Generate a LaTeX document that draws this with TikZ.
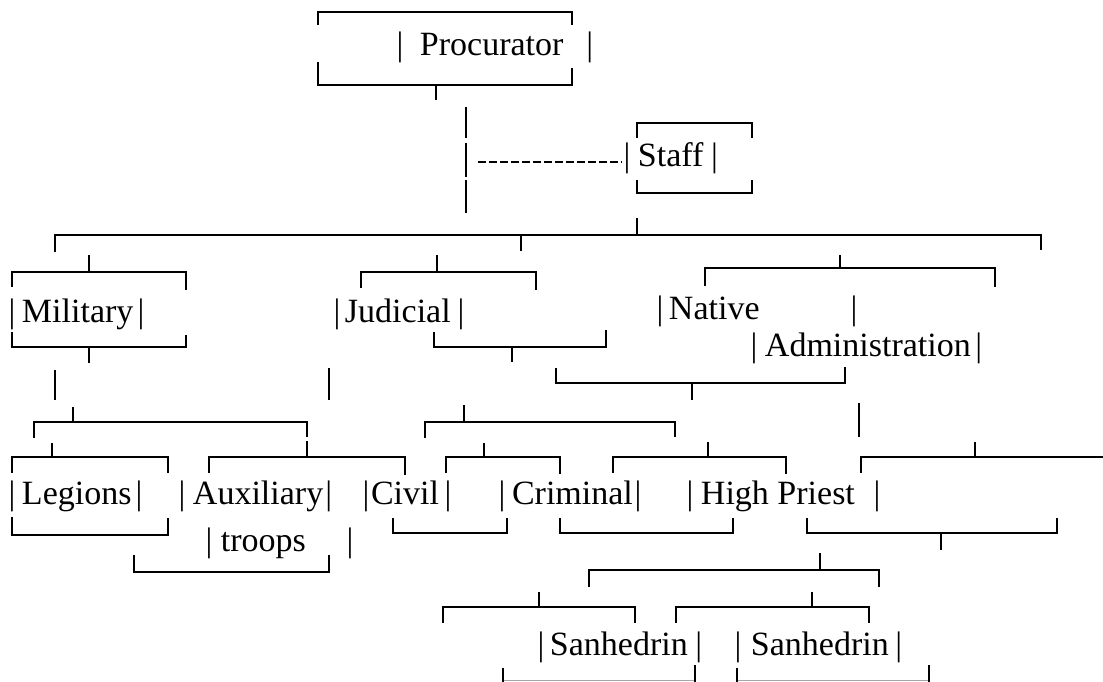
\documentclass[tikz,border=0pt]{standalone}
\usepackage{fontspec}
\setmainfont{Liberation Serif}
\begin{document}
\begin{tikzpicture}[x=1pt,y=-1pt,
    brk/.style={line width=2.6pt},
    rule/.style={line width=2.8pt},
    dashes/.style={line width=2.4pt,dash pattern=on 8pt off 3pt},
    lbl/.style={anchor=base west,inner sep=0pt,outer sep=0pt,font=\fontsize{34}{40}\selectfont}]
  \useasboundingbox (0,0) rectangle (1103,682);
  % labels
  \node[lbl] (proc) at (396.6,56) {|\hspace{16.6pt}Procurator\hspace{23pt}|};
  \node[lbl] (staff) at (623.6,167) {|\hspace{7.6pt}Staff\hspace{7.6pt}|};
  \node[lbl] (mil) at (8.6,322) {|\hspace{6.6pt}Military\hspace{4.1pt}|};
  \node[lbl] (jud) at (333.6,322) {|\hspace{4.6pt}Judicial\hspace{6.8pt}|};
  \node[lbl] (nat) at (656.6,319) {|\hspace{5.6pt}Native\hspace{91pt}|};
  \node[lbl] (adm) at (750.6,356) {|\hspace{7.6pt}Administration\hspace{4.6pt}|};
  \node[lbl] (leg) at (8.6,504) {|\hspace{6.6pt}Legions\hspace{4.1pt}|};
  \node[lbl] (aux) at (178.6,504) {|\hspace{7.6pt}Auxiliary\hspace{2pt}|};
  \node[lbl] (trp) at (205.6,551) {|\hspace{8.6pt}troops\hspace{40.6pt}|};
  \node[lbl] (civ) at (362.6,504) {|\hspace{1.6pt}Civil\hspace{5.6pt}|};
  \node[lbl] (crim) at (498.6,504) {|\hspace{6.6pt}Criminal\hspace{1.6pt}|};
  \node[lbl] (hp) at (686.6,504) {|\hspace{7.6pt}High Priest\hspace{18.6pt}|};
  \node[lbl] (sanA) at (537.6,655) {|\hspace{5.6pt}Sanhedrin\hspace{7.6pt}|};
  \node[lbl] (sanB) at (734.6,655) {|\hspace{9.6pt}Sanhedrin\hspace{6.6pt}|};
  % procurator and staff
  \draw[brk] (318,25) -- (318,12) -- (572,12) -- (572,25);
  \draw[brk] (318,62) -- (318,85) -- (572,85) -- (572,68);
  \draw[brk] (436,85) -- (436,100);
  \draw[rule] (466,107) -- (466,138);
  \draw[rule] (466,143) -- (466,177);
  \draw[rule] (466,180) -- (466,213);
  \draw[dashes] (478,162) -- (622,162);
  \draw[brk] (637,138) -- (637,123) -- (752,123) -- (752,138);
  \draw[brk] (637,180) -- (637,193) -- (752,193) -- (752,180);
  \draw[brk] (637,218) -- (637,236);
  \draw[brk] (55,252) -- (55,235) -- (1041,235) -- (1041,250);
  \draw[brk] (521,235) -- (521,251);
  % military
  \draw[brk] (89,255) -- (89,272);
  \draw[brk] (12,287) -- (12,272) -- (186,272) -- (186,290);
  \draw[brk] (12,332) -- (12,347) -- (186,347) -- (186,335);
  \draw[brk] (89,347) -- (89,363);
  \draw[rule] (55,370) -- (55,400);
  \draw[rule] (329,368) -- (329,400);
  \draw[brk] (73,407) -- (73,422);
  \draw[brk] (34,438) -- (34,422) -- (307,422) -- (307,437);
  \draw[brk] (52,443) -- (52,457);
  \draw[brk] (12,473) -- (12,457) -- (168,457) -- (168,473);
  \draw[brk] (12,517) -- (12,535) -- (168,535) -- (168,518);
  \draw[brk] (307,441) -- (307,457);
  \draw[brk] (209,473) -- (209,457) -- (405,457) -- (405,475);
  \draw[brk] (134,555) -- (134,572) -- (329,572) -- (329,555);
  % judicial
  \draw[brk] (437,255) -- (437,272);
  \draw[brk] (361,288) -- (361,272) -- (536,272) -- (536,290);
  \draw[brk] (434,332) -- (434,347) -- (606,347) -- (606,330);
  \draw[brk] (512,347) -- (512,362);
  \draw[brk] (464,405) -- (464,422);
  \draw[brk] (425,438) -- (425,422) -- (675,422) -- (675,437);
  \draw[brk] (484,443) -- (484,457);
  \draw[brk] (446,473) -- (446,457) -- (560,457) -- (560,474);
  \draw[brk] (393,518) -- (393,533) -- (507,533) -- (507,518);
  \draw[brk] (708,442) -- (708,457);
  \draw[brk] (613,473) -- (613,457) -- (786,457) -- (786,474);
  \draw[brk] (560,518) -- (560,533) -- (733,533) -- (733,518);
  % native administration
  \draw[brk] (840,255) -- (840,268);
  \draw[brk] (705,286) -- (705,268) -- (995,268) -- (995,287);
  \draw[brk] (556,368) -- (556,383) -- (845,383) -- (845,367);
  \draw[brk] (692,383) -- (692,400);
  \draw[rule] (859,403) -- (859,437);
  \draw[brk] (975,442) -- (975,457);
  \draw[brk] (861,473) -- (861,457) -- (1103,457);
  \draw[brk] (807,518) -- (807,533) -- (1057,533) -- (1057,518);
  \draw[brk] (941,533) -- (941,550);
  % sanhedrin
  \draw[brk] (820,553) -- (820,570);
  \draw[brk] (589,587) -- (589,570) -- (879,570) -- (879,587);
  \draw[brk] (539,592) -- (539,607);
  \draw[brk] (443,623) -- (443,607) -- (635,607) -- (635,623);
  \draw[brk] (812,592) -- (812,607);
  \draw[brk] (676,623) -- (676,607) -- (869,607) -- (869,623);
  \draw[black!35,line width=1pt] (503,680) -- (695,680);
  \draw[black!35,line width=1pt] (737,680) -- (929,680);
  \draw[brk] (503,668) -- (503,682);
  \draw[brk] (695,665) -- (695,682);
  \draw[brk] (737,668) -- (737,682);
  \draw[brk] (929,665) -- (929,682);
\end{tikzpicture}
\end{document}
